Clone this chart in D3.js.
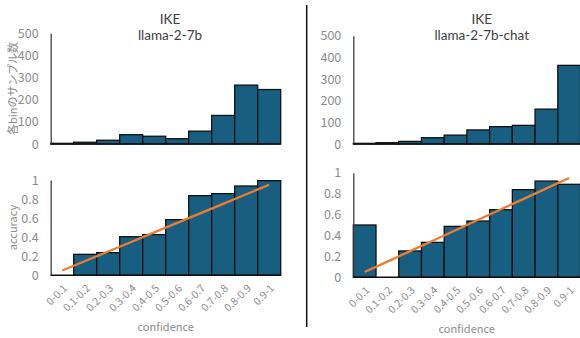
<!DOCTYPE html>
<html><head><meta charset="utf-8">
<script src="https://cdn.jsdelivr.net/npm/d3@7/dist/d3.min.js"></script>
<style>body{margin:0;background:#fff}svg{display:block}</style>
</head><body>
<svg id="c" width="580" height="338"></svg>
<script>
const categories = ["0-0.1","0.1-0.2","0.2-0.3","0.3-0.4","0.4-0.5","0.5-0.6","0.6-0.7","0.7-0.8","0.8-0.9","0.9-1"];
const countTicks = [0,100,200,300,400,500];
const accTicks = [0,0.2,0.4,0.6,0.8,1];
const idealLine = [0.05,0.15,0.25,0.35,0.45,0.55,0.65,0.75,0.85,0.95];
const titlesLeft = ["IKE","llama-2-7b"];
const titlesRight = ["IKE","llama-2-7b-chat"];
const countsLeft = [3,8,17,42,35,24,58,129,266,246];
const accLeft = [0,0.22,0.238,0.405,0.427,0.584,0.836,0.857,0.937,0.993];
const countsRight = [3,6,12,29,41,65,80,86,161,363];
const accRight = [0.5,0,0.252,0.334,0.487,0.538,0.646,0.838,0.92,0.889];

const svg = d3.select("#c");
const FONT = "'Noto Sans CJK JP','Noto Sans',sans-serif";
const TFONT = "Lato,'Noto Sans',sans-serif";
const BAR = "#185e80";
const TICKC = "#8c8c8c";

function panel(opt){
  const x = d3.scaleBand().domain(categories).range([opt.x0,opt.x1]).padding(0);
  const y = d3.scaleLinear().domain(opt.domain).range([opt.yb,opt.yt]);
  const g = svg.append("g");
  g.selectAll("rect").data(opt.values).join("rect")
    .attr("x",(d,i)=>x(categories[i]))
    .attr("width",x.bandwidth())
    .attr("y",d=>y(d))
    .attr("height",d=>Math.max(0,y(0)-y(d)))
    .attr("fill",BAR).attr("stroke","#111").attr("stroke-width",1.3);
  const ya = d3.axisLeft(y).tickValues(opt.ticks).tickSize(0).tickPadding(12).tickFormat(d3.format("~g"));
  const ag = g.append("g").attr("transform",`translate(${opt.x0},0)`).call(ya);
  ag.select(".domain").attr("stroke","#404040").attr("stroke-width",1.3);
  ag.selectAll("text").attr("fill",TICKC).style("font-family",FONT).style("font-size","12.5px");
  g.append("line").attr("x1",opt.x0).attr("x2",opt.x1).attr("y1",y(0)).attr("y2",y(0))
    .attr("stroke","#111").attr("stroke-width",1.6);
  if(opt.xlabels){
    const xa = d3.axisBottom(x).tickSize(0).tickPadding(0);
    const xg = g.append("g").attr("transform",`translate(0,${y(0)})`).call(xa);
    xg.select(".domain").remove();
    xg.selectAll("text").attr("fill",TICKC).style("font-family",FONT).style("font-size","10.5px")
      .attr("text-anchor","end").attr("dy","0.35em")
      .attr("transform","translate(3,11) rotate(-45)");
  }
  if(opt.line){
    const ln = d3.line().x((d,i)=>x(categories[i])+x.bandwidth()/2).y(d=>y(d));
    g.append("path").attr("d",ln(opt.line)).attr("fill","none")
      .attr("stroke","#ed7d31").attr("stroke-width",2.3);
  }
  return {x,y};
}

const L0=50.7, L1=280.7, R0=353.3, R1=580.5;
panel({x0:L0,x1:L1,yt:33.3,yb:144,domain:[0,500],ticks:countTicks,values:countsLeft});
panel({x0:L0,x1:L1,yt:180,yb:275.3,domain:[0,1],ticks:accTicks,values:accLeft,xlabels:true,line:idealLine});
panel({x0:R0,x1:R1,yt:35.7,yb:144,domain:[0,500],ticks:countTicks,values:countsRight});
panel({x0:R0,x1:R1,yt:172.7,yb:277.3,domain:[0,1],ticks:accTicks,values:accRight,xlabels:true,line:idealLine});

function title(cx, lines){
  lines.forEach((t,i)=>{
    svg.append("text").attr("x",cx).attr("y",19+i*16.3).attr("dy","0.35em")
      .attr("text-anchor","middle").attr("fill","#404040")
      .style("font-family",TFONT).style("font-size","13.5px").text(t);
  });
}
title(170, titlesLeft);
title(481.7, titlesRight);

svg.append("text").attr("transform","translate(13,88.5) rotate(-90)").attr("text-anchor","middle").attr("dy","0.35em")
  .attr("fill",TICKC).style("font-family",FONT).style("font-size","11px").text("各binのサンプル数");
svg.append("text").attr("transform","translate(12.7,227.5) rotate(-90)").attr("text-anchor","middle").attr("dy","0.35em")
  .attr("fill",TICKC).style("font-family",FONT).style("font-size","11px").text("accuracy");
svg.append("text").attr("x",165.7).attr("y",327).attr("dy","0.35em").attr("text-anchor","middle")
  .attr("fill",TICKC).style("font-family",FONT).style("font-size","11px").text("confidence");
svg.append("text").attr("x",466.7).attr("y",329).attr("dy","0.35em").attr("text-anchor","middle")
  .attr("fill",TICKC).style("font-family",FONT).style("font-size","11px").text("confidence");

svg.append("line").attr("x1",306.7).attr("x2",306.7).attr("y1",5).attr("y2",327)
  .attr("stroke","#111").attr("stroke-width",1.5);
</script>
</body></html>
